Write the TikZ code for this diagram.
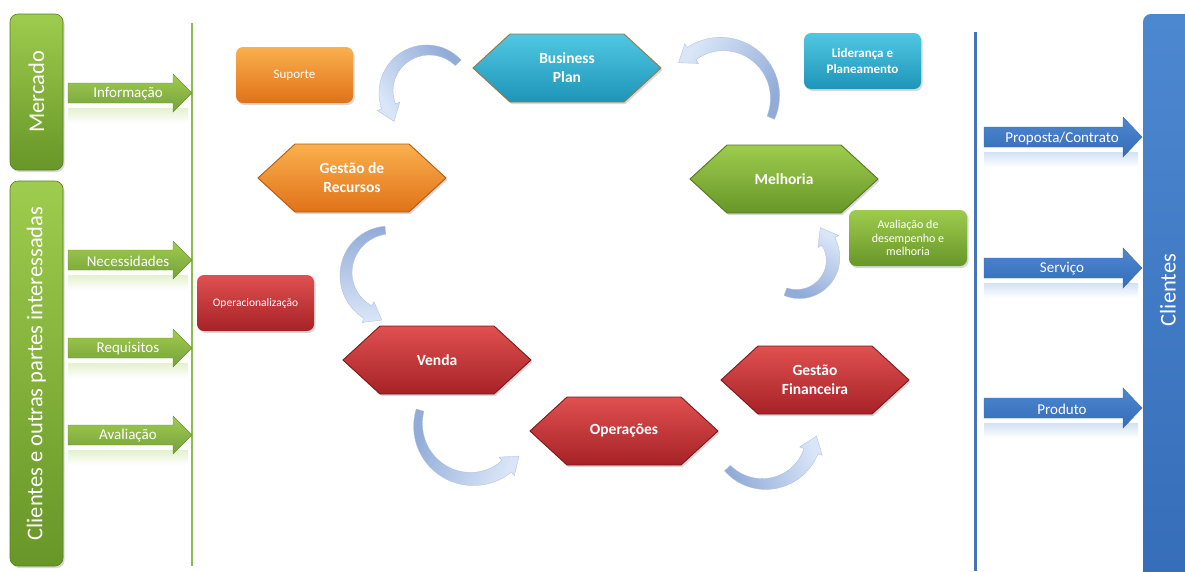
\documentclass[tikz,border=0pt]{standalone}
\usepackage{fontspec}
\setmainfont{Carlito}
\usetikzlibrary{arrows.meta,shadows,calc}

\definecolor{gA}{RGB}{158,204,78}
\definecolor{gB}{RGB}{104,150,40}
\definecolor{oA}{RGB}{250,176,78}
\definecolor{oB}{RGB}{224,114,24}
\definecolor{tA}{RGB}{80,200,226}
\definecolor{tB}{RGB}{30,148,184}
\definecolor{rA}{RGB}{224,80,80}
\definecolor{rB}{RGB}{166,34,38}
\definecolor{bA}{RGB}{76,136,208}
\definecolor{bB}{RGB}{54,108,184}
\definecolor{arcdark}{RGB}{146,172,216}
\definecolor{arcpale}{RGB}{218,230,248}
\definecolor{gline}{RGB}{140,186,80}
\definecolor{bline}{RGB}{70,116,186}
\definecolor{bpedge}{RGB}{150,120,70}

\tikzset{
  softshadow/.style={drop shadow={opacity=0.3,shadow xshift=1.5pt,shadow yshift=-2pt}},
  hextext/.style={text=white, font=\fontsize{15.5}{19}\selectfont\bfseries, align=center, inner sep=0pt},
  rbox/.style={rounded corners=7pt, minimum width=117pt, minimum height=56pt, align=center,
    text=white, inner sep=2pt, softshadow},
  sidebox/.style={rounded corners=8pt, top color=gA, bottom color=gB, draw=gB!85!black,
    line width=0.6pt, softshadow},
  sidetext/.style={text=white, font=\fontsize{22.5}{26}\selectfont, inner sep=0pt},
  arrtext/.style={text=white, font=\fontsize{15}{17}\selectfont, inner sep=0pt, yshift=-1pt},
  bendfill/.style={top color=arcpale, bottom color=arcdark, draw=arcdark!80, line width=0.3pt},
}

% hexagon: name, cx, cy, top colour, bottom colour, edge colour, text
\newcommand{\hexbox}[7]{%
  \path[top color=#4, bottom color=#5, draw=#6, line width=0.9pt, softshadow]
    (#2-94,#3) -- (#2-57,#3-34) -- (#2+57,#3-34) -- (#2+94,#3)
    -- (#2+57,#3+34) -- (#2-57,#3+34) -- cycle;
  \node[hextext] (#1) at (#2,#3) {#7};}

% green arrow: name, cy, text
\newcommand{\grarrow}[3]{%
  \shade[top color=gA!28, bottom color=white] (68,#2+15) rectangle (188,#2+30);
  \path[top color=gA, bottom color=gB!90, draw=gB, line width=0.4pt]
    (68,#2-10) -- (173,#2-10) -- (173,#2-19) -- (192,#2) -- (173,#2+19)
    -- (173,#2+10) -- (68,#2+10) -- cycle;
  \node[arrtext] (#1) at (128,#2) {#3};}

% blue arrow: name, cy, text
\newcommand{\blarrow}[3]{%
  \shade[top color=bA!25, bottom color=white] (984,#2+15) rectangle (1138,#2+30);
  \path[top color=bA, bottom color=bB, draw=bB, line width=0.4pt]
    (984,#2-10) -- (1123,#2-10) -- (1123,#2-20) -- (1142,#2) -- (1123,#2+20)
    -- (1123,#2+10) -- (984,#2+10) -- cycle;
  \node[arrtext] (#1) at (1062,#2) {#3};}

% tapered curved arrow: cx, cy, r, tail angle, head-base angle, shading angle
\newcommand{\bendarrow}[6]{%
  \path[bendfill, shading angle=#6]
    plot[domain=0:1, samples=30, variable=\t]
      ({#1+(#3+4+3.5*\t)*cos(#4+(#5-#4)*\t)}, {#2+(#3+4+3.5*\t)*sin(#4+(#5-#4)*\t)})
    -- ({#1+(#3+12)*cos(#5)}, {#2+(#3+12)*sin(#5)})
    -- ({#1+#3*cos(#5)+16*sin(#5)}, {#2+#3*sin(#5)-16*cos(#5)})
    -- ({#1+(#3-12)*cos(#5)}, {#2+(#3-12)*sin(#5)})
    -- plot[domain=1:0, samples=30, variable=\t]
      ({#1+(#3-4-3.5*\t)*cos(#4+(#5-#4)*\t)}, {#2+(#3-4-3.5*\t)*sin(#4+(#5-#4)*\t)})
    -- cycle;}

\begin{document}
\begin{tikzpicture}[x=1pt,y=-1pt]
\useasboundingbox (0,0) rectangle (1185,571);
\clip (0,0) rectangle (1185,571);
\fill[white] (0,0) rectangle (1185,571);

% left side boxes
\node[sidebox, minimum width=53pt, minimum height=156pt] (merc) at (36.5,92) {};
\node[sidetext, rotate=90] (merct) at (merc) {Mercado};
\node[sidebox, minimum width=53pt, minimum height=385pt] (cli) at (36.5,373.5) {};
\node[sidetext, rotate=90] (clit) at (cli) {Clientes e outras partes interessadas};

% dividing lines
\coordinate (gl1) at (192,23);
\coordinate (gl2) at (192,566);
\draw[gline, line width=2.5pt] (gl1) -- (gl2);
\coordinate (bl1) at (975.5,32);
\coordinate (bl2) at (975.5,571);
\draw[bline, line width=2.5pt] (bl1) -- (bl2);

% green input arrows
\grarrow{inf}{93}{Informação}
\grarrow{nec}{260}{Necessidades}
\grarrow{req}{348}{Requisitos}
\grarrow{ava}{435}{Avaliação}

% right Clientes box
\path[top color=bA, bottom color=bB, rounded corners=8pt, softshadow] (1143,14) rectangle (1215,600);
\coordinate (clr) at (1168,290);
\node[sidetext, rotate=90] (clientes) at (clr) {Clientes};

% blue output arrows
\blarrow{prop}{137}{Proposta/Contrato}
\blarrow{serv}{268}{Serviço}
\blarrow{prod}{408}{Produto}

% small boxes
\node[rbox, top color=oA, bottom color=oB, font=\fontsize{13}{15}\selectfont] (sup) at (294.5,75) {Suporte};
\node[rbox, top color=tA, bottom color=tB, font=\fontsize{13}{16}\selectfont\bfseries] (lid) at (862.5,61) {Liderança e\\Planeamento};
\node[rbox, top color=gA, bottom color=gB, minimum width=118pt, font=\fontsize{12}{13.5}\selectfont] (avd) at (908,238) {Avaliação de\\desempenho e\\melhoria};
\node[rbox, top color=rA, bottom color=rB, font=\fontsize{11.5}{14}\selectfont] (opz) at (255.5,303) {Operacionalização};

% hexagons
\hexbox{bp}{567}{68}{tA}{tB}{bpedge}{Business\\Plan}
\hexbox{gr}{352}{178}{oA}{oB}{oB!80!black}{Gestão de\\Recursos}
\hexbox{mel}{784}{179}{gA}{gB}{gB!80!black}{Melhoria}
\hexbox{ven}{437}{360}{rA}{rB}{rB!75!black}{Venda}
\hexbox{ope}{624}{431}{rA}{rB}{rB!75!black}{Operações}
\hexbox{gfi}{815}{380}{rA}{rB}{rB!75!black}{Gestão\\Financeira}

% curved arrows
\bendarrow{428}{92}{42}{-44}{-200}{127}
\bendarrow{722}{97}{53}{23}{-125}{58}
\bendarrow{390}{274}{44}{-96}{-240}{178}
\bendarrow{472}{425}{54}{196}{50}{-115}
\bendarrow{764}{434}{50}{137}{20}{-70}
\bendarrow{798}{259}{35}{111}{-30}{-29}
\end{tikzpicture}
\end{document}
